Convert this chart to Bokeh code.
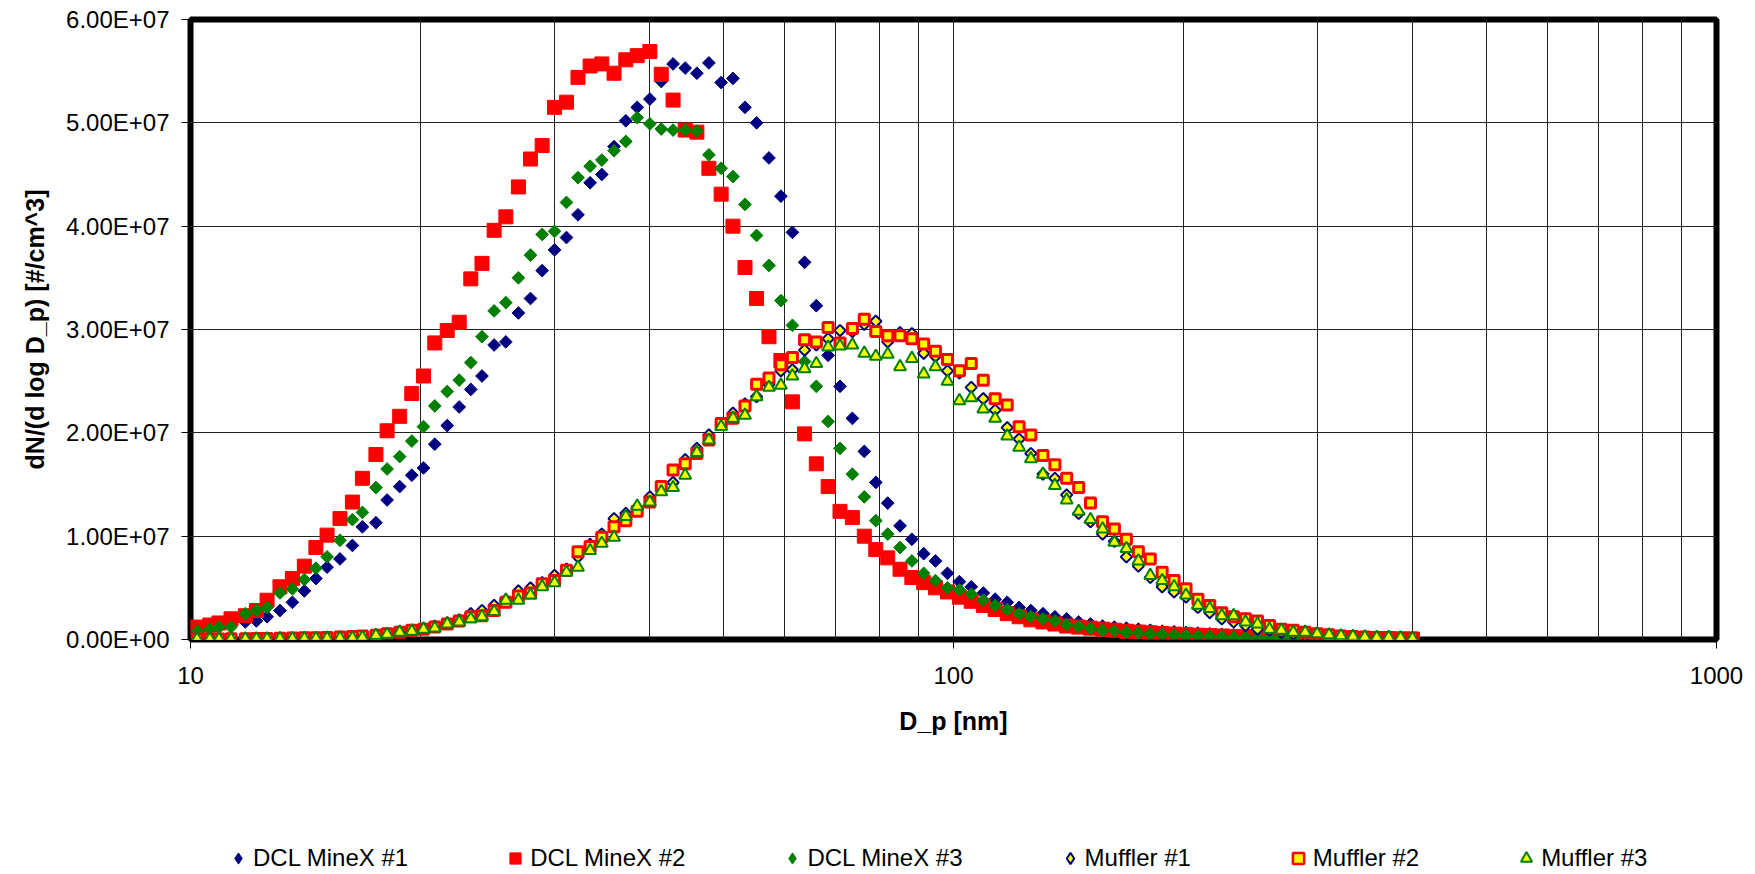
import math
from bokeh.plotting import figure
from bokeh.layouts import column
from bokeh.models import (ColumnDataSource, FixedTicker, CustomJSTickFormatter,
                          Legend, LegendItem, Range1d)
from bokeh.embed import file_html
from bokeh.resources import INLINE

# ---------------- data ----------------
# particle diameter D_p [nm] (64 channels / decade)
diameter_nm = [
    10.2, 10.6, 10.9, 11.3, 11.8, 12.2, 12.6, 13.1, 13.6, 14.1,
    14.6, 15.1, 15.7, 16.3, 16.8, 17.5, 18.1, 18.8, 19.5, 20.2,
    20.9, 21.7, 22.5, 23.3, 24.1, 25.0, 25.9, 26.9, 27.9, 28.9,
    30.0, 31.1, 32.2, 33.4, 34.6, 35.9, 37.2, 38.5, 40.0, 41.4,
    42.9, 44.5, 46.1, 47.8, 49.6, 51.4, 53.3, 55.2, 57.3, 59.4,
    61.5, 63.8, 66.1, 68.5, 71.0, 73.7, 76.4, 79.1, 82.0, 85.1,
    88.2, 91.4, 94.7, 98.2, 101.8, 105.5, 109.4, 113.4, 117.6, 121.9,
    126.3, 131.0, 135.8, 140.7, 145.9, 151.2, 156.8, 162.5, 168.5, 174.7,
    181.1, 187.7, 194.6, 201.7, 209.1, 216.7, 224.7, 232.9, 241.4, 250.3,
    259.5, 269.0, 278.8, 289.0, 299.6, 310.6, 322.0, 333.8, 346.0, 358.7,
    371.8, 385.4, 399.5,
]

# dN/dlogDp in units of 1e7 #/cm^3
dcl_minex_1 = [
    0.08, 0.10, 0.12, 0.14, 0.17, 0.18, 0.22, 0.28, 0.36, 0.47,
    0.59, 0.70, 0.78, 0.91, 1.09, 1.13, 1.35, 1.48, 1.59, 1.66,
    1.89, 2.07, 2.25, 2.42, 2.55, 2.85, 2.88, 3.16, 3.30, 3.57,
    3.77, 3.89, 4.11, 4.42, 4.50, 4.77, 5.02, 5.15, 5.23, 5.40,
    5.57, 5.53, 5.48, 5.58, 5.39, 5.43, 5.15, 5.00, 4.66, 4.29,
    3.94, 3.65, 3.23, 2.75, 2.45, 2.14, 1.82, 1.52, 1.32, 1.10,
    0.97, 0.83, 0.76, 0.64, 0.56, 0.51, 0.45, 0.39, 0.36, 0.31,
    0.28, 0.25, 0.22, 0.20, 0.17, 0.15, 0.13, 0.12, 0.11, 0.10,
    0.09, 0.08, 0.075, 0.068, 0.062, 0.056, 0.050, 0.045, 0.040, 0.036,
    0.032, 0.029, 0.026, 0.023, 0.020, 0.018, 0.016, 0.014, 0.012, 0.010,
    0.009, 0.008, 0.007,
]
dcl_minex_2 = [
    0.12, 0.14, 0.16, 0.20, 0.23, 0.28, 0.38, 0.51, 0.59, 0.71,
    0.89, 1.01, 1.17, 1.33, 1.56, 1.79, 2.02, 2.16, 2.38, 2.55,
    2.87, 2.99, 3.07, 3.49, 3.64, 3.96, 4.09, 4.38, 4.65, 4.78,
    5.15, 5.20, 5.44, 5.55, 5.57, 5.48, 5.61, 5.65, 5.69, 5.47,
    5.22, 4.93, 4.91, 4.56, 4.31, 4.00, 3.60, 3.30, 2.93, 2.70,
    2.30, 1.99, 1.70, 1.48, 1.24, 1.18, 1.00, 0.87, 0.79, 0.68,
    0.60, 0.55, 0.50, 0.46, 0.41, 0.37, 0.33, 0.29, 0.25, 0.22,
    0.19, 0.17, 0.15, 0.13, 0.12, 0.11, 0.10, 0.09, 0.08, 0.072,
    0.065, 0.058, 0.052, 0.047, 0.042, 0.038, 0.034, 0.030, 0.027, 0.024,
    0.021, 0.019, 0.017, 0.015, 0.013, 0.012, 0.010, 0.009, 0.008, 0.007,
    0.006, 0.005, 0.004,
]
dcl_minex_3 = [
    0.08, 0.10, 0.12, 0.12, 0.25, 0.28, 0.31, 0.45, 0.49, 0.58,
    0.69, 0.80, 0.96, 1.16, 1.23, 1.47, 1.65, 1.77, 1.92, 2.06,
    2.26, 2.40, 2.51, 2.68, 2.93, 3.18, 3.26, 3.50, 3.72, 3.92,
    3.95, 4.23, 4.47, 4.58, 4.64, 4.73, 4.82, 5.05, 4.99, 4.94,
    4.93, 4.93, 4.92, 4.69, 4.56, 4.48, 4.21, 3.91, 3.62, 3.28,
    3.04, 2.69, 2.45, 2.11, 1.85, 1.60, 1.38, 1.15, 1.02, 0.89,
    0.76, 0.64, 0.57, 0.50, 0.48, 0.44, 0.38, 0.33, 0.29, 0.25,
    0.22, 0.20, 0.18, 0.145, 0.125, 0.11, 0.09, 0.08, 0.07, 0.062,
    0.055, 0.050, 0.044, 0.039, 0.034, 0.030, 0.027, 0.024, 0.021, 0.019,
    0.017, 0.015, 0.013, 0.012, 0.010, 0.009, 0.008, 0.007, 0.006, 0.005,
    0.004, 0.004, 0.003,
]
muffler_1 = [
    0.005, 0.004, 0.005, 0.006, 0.006, 0.007, 0.008, 0.010, 0.012, 0.014,
    0.016, 0.018, 0.022, 0.026, 0.030, 0.045, 0.06, 0.075, 0.09, 0.11,
    0.13, 0.16, 0.19, 0.25, 0.28, 0.33, 0.38, 0.47, 0.50, 0.55,
    0.62, 0.68, 0.80, 0.92, 1.02, 1.17, 1.22, 1.27, 1.38, 1.45,
    1.52, 1.74, 1.85, 1.98, 2.08, 2.19, 2.28, 2.35, 2.47, 2.60,
    2.61, 2.80, 2.85, 2.91, 2.99, 2.98, 3.05, 3.08, 2.88, 2.97,
    2.96, 2.77, 2.74, 2.60, 2.58, 2.44, 2.33, 2.22, 2.05, 1.94,
    1.80, 1.60, 1.56, 1.40, 1.22, 1.14, 1.02, 0.95, 0.80, 0.71,
    0.60, 0.51, 0.46, 0.41, 0.31, 0.26, 0.20, 0.17, 0.135, 0.10,
    0.09, 0.07, 0.055, 0.045, 0.040, 0.035, 0.030, 0.025, 0.020, 0.018,
    0.015, 0.012, 0.010,
]
muffler_2 = [
    0.005, 0.006, 0.006, 0.007, 0.008, 0.009, 0.010, 0.012, 0.014, 0.016,
    0.018, 0.020, 0.025, 0.030, 0.035, 0.04, 0.055, 0.07, 0.09, 0.10,
    0.12, 0.15, 0.18, 0.22, 0.23, 0.28, 0.36, 0.42, 0.45, 0.54,
    0.57, 0.67, 0.85, 0.90, 0.99, 1.09, 1.15, 1.24, 1.33, 1.48,
    1.64, 1.70, 1.80, 1.93, 2.09, 2.14, 2.26, 2.47, 2.53, 2.66,
    2.73, 2.90, 2.88, 3.02, 2.87, 3.01, 3.10, 2.98, 2.94, 2.94,
    2.91, 2.86, 2.79, 2.71, 2.60, 2.67, 2.51, 2.33, 2.27, 2.06,
    1.98, 1.78, 1.69, 1.56, 1.47, 1.32, 1.14, 1.07, 0.97, 0.85,
    0.78, 0.65, 0.57, 0.49, 0.39, 0.33, 0.26, 0.22, 0.20, 0.18,
    0.135, 0.10, 0.09, 0.07, 0.055, 0.045, 0.035, 0.030, 0.025, 0.020,
    0.020, 0.015, 0.015,
]
muffler_3 = [
    0.003, 0.003, 0.004, 0.004, 0.005, 0.005, 0.006, 0.007, 0.008, 0.009,
    0.010, 0.012, 0.014, 0.016, 0.020, 0.04, 0.05, 0.07, 0.08, 0.10,
    0.11, 0.15, 0.17, 0.20, 0.22, 0.27, 0.38, 0.38, 0.43, 0.51,
    0.55, 0.65, 0.70, 0.86, 0.93, 0.99, 1.19, 1.29, 1.33, 1.43,
    1.47, 1.59, 1.81, 1.93, 2.06, 2.14, 2.17, 2.35, 2.44, 2.46,
    2.55, 2.62, 2.67, 2.83, 2.84, 2.85, 2.77, 2.74, 2.76, 2.64,
    2.72, 2.57, 2.64, 2.50, 2.31, 2.34, 2.23, 2.14, 1.97, 1.86,
    1.75, 1.60, 1.49, 1.35, 1.24, 1.16, 1.07, 0.94, 0.88, 0.76,
    0.62, 0.57, 0.51, 0.43, 0.33, 0.30, 0.23, 0.23, 0.17, 0.15,
    0.10, 0.09, 0.07, 0.07, 0.055, 0.045, 0.035, 0.030, 0.025, 0.020,
    0.020, 0.015, 0.010,
]
UNIT = 1e7

series_names = ["DCL MineX #1", "DCL MineX #2", "DCL MineX #3",
                "Muffler #1", "Muffler #2", "Muffler #3"]
series_values = [dcl_minex_1, dcl_minex_2, dcl_minex_3,
                 muffler_1, muffler_2, muffler_3]

y_ticks = [0, 1e7, 2e7, 3e7, 4e7, 5e7, 6e7]
x_major_ticks = [10, 100, 1000]
x_minor_ticks = [20, 30, 40, 50, 60, 70, 80, 90, 200, 300, 400, 500, 600, 700, 800, 900]

# ---------------- styles ----------------
NAVY, RED, GREEN, YELLOW = "#000080", "#FF0000", "#008000", "#FFFF00"
styles = [
    dict(marker="square", angle=math.pi / 4, size=9, fill_color=NAVY, line_color=NAVY, line_width=1),
    dict(marker="square", angle=0, size=14, fill_color=RED, line_color=RED, line_width=1),
    dict(marker="square", angle=math.pi / 4, size=9, fill_color=GREEN, line_color=GREEN, line_width=1),
    dict(marker="square", angle=math.pi / 4, size=8, fill_color=YELLOW, line_color=NAVY, line_width=2),
    dict(marker="square", angle=0, size=10, fill_color=YELLOW, line_color=RED, line_width=3),
    dict(marker="triangle", angle=0, size=12, fill_color=YELLOW, line_color=GREEN, line_width=2),
]
# legend swatches (the legend does not rotate markers, so use real diamonds there)
legend_styles = [
    dict(marker="diamond", fill_color=NAVY, line_color=NAVY, line_width=1),
    dict(marker="square", fill_color=RED, line_color=RED, line_width=1),
    dict(marker="diamond", fill_color=GREEN, line_color=GREEN, line_width=1),
    dict(marker="diamond", fill_color=YELLOW, line_color=NAVY, line_width=2),
    dict(marker="square", fill_color=YELLOW, line_color=RED, line_width=2.5),
    dict(marker="triangle", fill_color=YELLOW, line_color=GREEN, line_width=2),
]

FONT = "Liberation Sans"
W = 1755
MAIN_H = 814
LEGEND_H = 60

p_main = figure(width=W, height=MAIN_H, x_axis_type="log",
                x_range=Range1d(10, 1000), y_range=Range1d(0, 6e7),
                output_backend="svg", toolbar_location=None,
                min_border_left=190, min_border_right=39,
                min_border_top=19, min_border_bottom=MAIN_H - 639,
                background_fill_color="white", border_fill_color="white")

p_main.outline_line_color = "black"
p_main.outline_line_width = 6

# axes
xa = p_main.xaxis[0]
xa.ticker = FixedTicker(ticks=x_major_ticks, minor_ticks=x_minor_ticks)
xa.formatter = CustomJSTickFormatter(code="return tick.toFixed(0);")
xa.axis_label = "D_p [nm]"
ya = p_main.yaxis[0]
ya.ticker = FixedTicker(ticks=y_ticks)
ya.formatter = CustomJSTickFormatter(code="""
    const s = tick.toExponential(2).toUpperCase();
    const parts = s.split('E');
    let e = parts[1];
    const sign = e[0];
    let d = e.slice(1);
    if (d.length < 2) { d = '0' + d; }
    return parts[0] + 'E' + sign + d;
""")
ya.axis_label = "dN/(d log D_p) [#/cm^3]"

for ax in (xa, ya):
    ax.axis_line_color = None
    ax.major_tick_line_color = "black"
    ax.major_tick_line_width = 1
    ax.major_tick_out = 9
    ax.major_tick_in = 0
    ax.minor_tick_line_color = None
    ax.major_label_text_font = FONT
    ax.major_label_text_font_size = "24px"
    ax.major_label_text_color = "black"
    ax.axis_label_text_font = FONT
    ax.axis_label_text_font_size = "25px"
    ax.axis_label_text_font_style = "bold"
    ax.axis_label_text_color = "black"

xa.major_label_standoff = 18
xa.axis_label_standoff = 20
ya.major_label_standoff = 12
ya.axis_label_standoff = 14

# grids
p_main.xgrid.grid_line_color = "#222222"
p_main.xgrid.grid_line_width = 1
p_main.xgrid.minor_grid_line_color = "#222222"
p_main.xgrid.minor_grid_line_width = 1
p_main.ygrid.grid_line_color = "#222222"
p_main.ygrid.grid_line_width = 1

# glyphs
sources = []
for vals, st in zip(series_values, styles):
    src = ColumnDataSource(dict(x=diameter_nm, y=[v * UNIT for v in vals]))
    sources.append(src)
    p_main.scatter("x", "y", source=src, **st)

# ---------------- legend strip (below the chart) ----------------
# its frame is aligned with the chart frame by the column layout;
# its ranges lie outside the data, so the proxy glyphs only show in the legend
p_leg = figure(width=W, height=LEGEND_H, x_range=Range1d(0, 1), y_range=Range1d(-2, -1),
               output_backend="svg", toolbar_location=None, min_border=0,
               background_fill_color="white", border_fill_color="white")
p_leg.axis.visible = False
p_leg.grid.visible = False
p_leg.outline_line_color = None

items = []
for name, src, st in zip(series_names, sources, legend_styles):
    proxy = p_leg.scatter("x", "y", source=src, **st)
    items.append(LegendItem(label=name, renderers=[proxy]))

legend = Legend(items=items, orientation="horizontal",
                location=(34, 2),
                glyph_width=28, glyph_height=28,
                label_standoff=1, spacing=93,
                padding=0, margin=0,
                border_line_color=None, background_fill_alpha=0,
                label_text_font=FONT, label_text_font_size="24px",
                label_text_color="black")
p_leg.add_layout(legend)

p = column(p_main, p_leg, spacing=0)

open("out.html", "w").write(file_html(p, INLINE))
